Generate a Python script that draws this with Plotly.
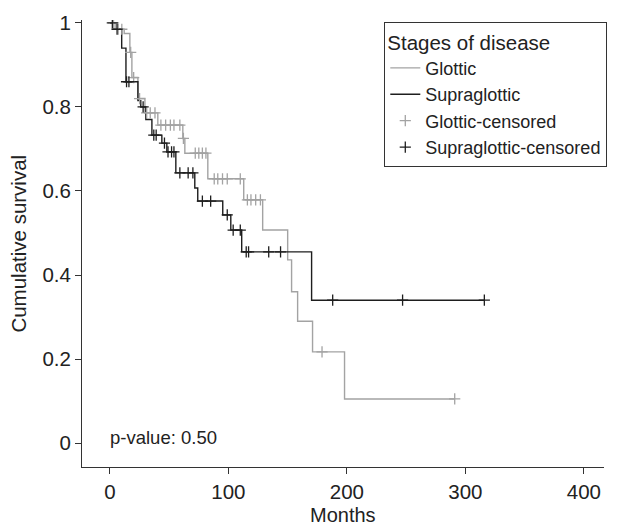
import plotly.graph_objects as go
import numpy as np

# ---- data ----
glottic_event_t = [5, 12, 16.8, 18.5, 23.6, 29.5, 40.4, 61.5, 63.2, 82.6, 112.9, 128.9, 150, 153.3, 158.4, 171, 198]
glottic_event_s = [0.985, 0.975, 0.93, 0.87, 0.82, 0.786, 0.757, 0.725, 0.69, 0.629, 0.579, 0.507, 0.436, 0.36, 0.29, 0.217, 0.105]
glottic_censor_t = [3, 7, 10, 17.5, 20, 25, 31, 34, 38, 43, 47, 51, 54, 59, 62, 72, 75, 78, 81,
                    88, 91, 95, 99, 110, 116, 119, 123, 127, 179, 291]

supra_event_t = [3, 9.9, 13.5, 23.6, 26, 30.3, 35.4, 43.8, 48, 55.6, 71.6, 74.1, 95.2, 102, 111.2, 170.2]
supra_event_s = [0.985, 0.94, 0.86, 0.815, 0.80, 0.77, 0.733, 0.714, 0.693, 0.643, 0.607, 0.576, 0.543, 0.507, 0.455, 0.34]
supra_censor_t = [2, 6, 14, 16, 28, 37, 39, 46, 49, 52, 54, 59, 66, 70, 78, 85, 99, 104, 110,
                  115, 117, 134, 144, 188, 247, 316]

x_ticks = [0, 100, 200, 300, 400]
y_ticks = [0, 0.2, 0.4, 0.6, 0.8, 1]
y_ticklabels = ["0", "0.2", "0.4", "0.6", "0.8", "1"]
p_value_text = "p-value: 0.50"
x_title = "Months"
y_title = "Cumulative survival"

GRAY = "#a3a3a3"
BLACK = "#1e1e1e"
FONT = "Liberation Sans, Arial, sans-serif"


def km_line(ev_t, ev_s, cens_t):
    end = max(max(ev_t), max(cens_t))
    xs = [0] + list(ev_t) + [end]
    ys = [1.0] + list(ev_s) + [ev_s[-1]]
    return xs, ys


def surv_at(ev_t, ev_s, t):
    s = 1.0
    for et, es in zip(ev_t, ev_s):
        if et <= t:
            s = es
    return s


fig = go.Figure()

gx, gy = km_line(glottic_event_t, glottic_event_s, glottic_censor_t)
sx, sy = km_line(supra_event_t, supra_event_s, supra_censor_t)

fig.add_trace(go.Scatter(x=gx, y=gy, mode="lines", line=dict(shape="hv", color=GRAY, width=1.4),
                         name="Glottic"))
fig.add_trace(go.Scatter(x=sx, y=sy, mode="lines", line=dict(shape="hv", color=BLACK, width=1.4),
                         name="Supraglottic"))
fig.add_trace(go.Scatter(x=glottic_censor_t,
                         y=[surv_at(glottic_event_t, glottic_event_s, t) for t in glottic_censor_t],
                         mode="markers", name="Glottic-censored",
                         marker=dict(symbol="cross-thin", size=8, line=dict(color=GRAY, width=1.3), color=GRAY)))
fig.add_trace(go.Scatter(x=supra_censor_t,
                         y=[surv_at(supra_event_t, supra_event_s, t) for t in supra_censor_t],
                         mode="markers", name="Supraglottic-censored",
                         marker=dict(symbol="cross-thin", size=8, line=dict(color=BLACK, width=1.3), color=BLACK)))

fig.add_annotation(x=-1.5, y=0.014, xref="x", yref="y", text=p_value_text, showarrow=False,
                   xanchor="left", yanchor="middle", font=dict(size=18.5, color="#222", family=FONT))
fig.add_annotation(x=0.5, y=-0.107, xref="paper", yref="paper", text=x_title, showarrow=False,
                   xanchor="center", yanchor="middle", font=dict(size=20, color="#222", family=FONT))
fig.add_annotation(x=-0.1224, y=0.5, xref="paper", yref="paper", text=y_title, showarrow=False,
                   textangle=-90, xanchor="center", yanchor="middle",
                   font=dict(size=20.5, color="#222", family=FONT))

axis_common = dict(showline=True, linecolor="#333", linewidth=1, ticks="outside", ticklen=6,
                   tickcolor="#333", tickwidth=1, showgrid=False, zeroline=False, mirror=False,
                   automargin=False, tickfont=dict(size=20.5, color="#222", family=FONT))

fig.update_xaxes(range=[-23.6, 417], tickvals=x_ticks, **axis_common)
fig.update_yaxes(range=[-0.057, 1.007], tickvals=y_ticks, ticktext=y_ticklabels, **axis_common)

fig.update_layout(
    width=619, height=525,
    margin=dict(l=82, r=14, t=20, b=58),
    paper_bgcolor="white", plot_bgcolor="white",
    font=dict(family=FONT, color="#222"),
    legend=dict(x=0.578, y=0.9955, xanchor="left", yanchor="top",
                bordercolor="#333", borderwidth=1, bgcolor="white",
                title=dict(text="Stages of disease", font=dict(size=20.5, family=FONT, color="#222")),
                font=dict(size=18, family=FONT, color="#222"), tracegroupgap=0),
)

fig.write_html("out.html")
